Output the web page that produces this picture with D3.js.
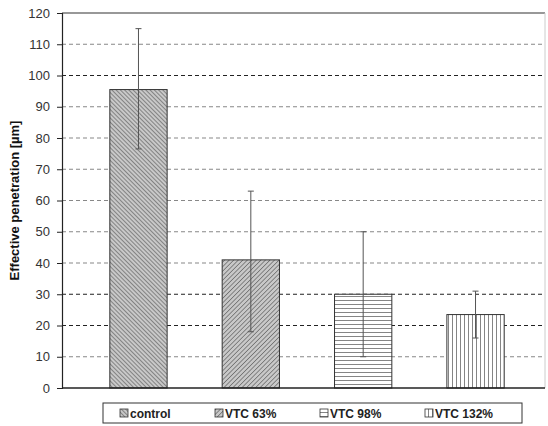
<!DOCTYPE html>
<html>
<head>
<meta charset="utf-8">
<script src="https://cdnjs.cloudflare.com/ajax/libs/d3/7.8.5/d3.min.js"></script>
<style>
body{margin:0;background:#fff;}
text{font-family:"Liberation Sans",Arial,sans-serif;}
</style>
</head>
<body>
<svg width="548" height="426"></svg>
<script>
const groups = ["control", "VTC 63%", "VTC 98%", "VTC 132%"];
const means = [95.5, 41, 30, 23.5];
const errHigh = [115, 63, 50, 31];
const errLow = [76.5, 18, 10, 16];
const yTicks = [0, 10, 20, 30, 40, 50, 60, 70, 80, 90, 100, 110, 120];
const darkLines = [20, 30, 100];

const svg = d3.select("svg");
const plotL = 62, plotR = 545, plotT = 13, plotB = 388;

const defs = svg.append("defs");
function hatch(id, bg, lineColor, angle, gap, w) {
    const p = defs.append("pattern")
        .attr("id", id)
        .attr("patternUnits", "userSpaceOnUse")
        .attr("width", gap).attr("height", gap)
        .attr("patternTransform", `rotate(${angle})`);
    p.append("rect").attr("width", gap).attr("height", gap).attr("fill", bg);
    p.append("line").attr("x1", 0).attr("y1", 0).attr("x2", 0).attr("y2", gap)
        .attr("stroke", lineColor).attr("stroke-width", w);
}
hatch("p0", "#c8c8c8", "#4a4a4a", -45, 3, 1.1);
hatch("p1", "#c8c8c8", "#4a4a4a", 45, 3.2, 1.1);
hatch("p2", "#ffffff", "#333", 90, 4, 1.2);
hatch("p3", "#ffffff", "#333", 0, 4, 1.2);
const fills = ["url(#p0)", "url(#p1)", "url(#p2)", "url(#p3)"];

const x = d3.scaleBand()
    .domain(groups)
    .range([82.3, 531.7])
    .paddingInner(0.49)
    .paddingOuter(0.245);

const y = d3.scaleLinear()
    .domain([0, 120])
    .range([plotB, plotT]);

// plot frame
svg.append("line").attr("x1", plotL).attr("x2", plotR).attr("y1", plotT).attr("y2", plotT)
    .attr("stroke", "#333").attr("stroke-width", 1.2);
svg.append("line").attr("x1", plotR).attr("x2", plotR).attr("y1", plotT).attr("y2", plotB)
    .attr("stroke", "#ccc");

// dashed grid
svg.append("g")
    .selectAll("line")
    .data(yTicks.filter(d => d > 0 && d < 120))
    .enter()
    .append("line")
    .attr("x1", plotL).attr("x2", plotR)
    .attr("y1", d => y(d)).attr("y2", d => y(d))
    .attr("stroke", d => darkLines.includes(d) ? "#222" : "#888")
    .attr("stroke-width", 1.2)
    .attr("stroke-dasharray", "4,3");

// y axis
const yAxis = svg.append("g")
    .attr("transform", `translate(${plotL},0)`)
    .call(d3.axisLeft(y).tickValues(yTicks).tickSize(5).tickPadding(7));
yAxis.select(".domain").attr("stroke", "#222").attr("stroke-width", 1.2);
yAxis.selectAll(".tick line").attr("stroke", "#222");
yAxis.selectAll(".tick text").attr("font-size", 13).attr("fill", "#333")
    .style("font-family", "'Liberation Sans',Arial,sans-serif");

// bars
svg.append("g")
    .selectAll("rect")
    .data(groups)
    .enter()
    .append("rect")
    .attr("x", d => x(d))
    .attr("y", (d, i) => y(means[i]))
    .attr("width", x.bandwidth())
    .attr("height", (d, i) => y(0) - y(means[i]))
    .attr("fill", (d, i) => fills[i])
    .attr("stroke", "#333")
    .attr("stroke-width", 1);

// x axis baseline
svg.append("line").attr("x1", plotL).attr("x2", plotR).attr("y1", plotB).attr("y2", plotB)
    .attr("stroke", "#222").attr("stroke-width", 1.3);

// error bars
const eb = svg.append("g").attr("stroke", "#555").attr("stroke-width", 1);
groups.forEach((g, i) => {
    const cx = x(g) + x.bandwidth() / 2;
    eb.append("line").attr("x1", cx).attr("x2", cx).attr("y1", y(errHigh[i])).attr("y2", y(errLow[i]));
    eb.append("line").attr("x1", cx - 3).attr("x2", cx + 3).attr("y1", y(errHigh[i])).attr("y2", y(errHigh[i]));
    eb.append("line").attr("x1", cx - 3).attr("x2", cx + 3).attr("y1", y(errLow[i])).attr("y2", y(errLow[i]));
});

// y label
svg.append("text")
    .attr("transform", `translate(19,${(plotT + plotB) / 2}) rotate(-90)`)
    .attr("text-anchor", "middle")
    .attr("font-size", 13)
    .attr("font-weight", "bold")
    .attr("fill", "#111")
    .text("Effective penetration [µm]");

// legend
const lg = svg.append("g");
lg.append("rect").attr("x", 103).attr("y", 403).attr("width", 419).attr("height", 20)
    .attr("fill", "#fff").attr("stroke", "#333").attr("stroke-width", 1);
const legX = [120, 215, 320, 425];
groups.forEach((g, i) => {
    lg.append("rect").attr("x", legX[i]).attr("y", 409).attr("width", 8).attr("height", 8)
        .attr("fill", fills[i]).attr("stroke", "#333").attr("stroke-width", 0.8);
    lg.append("text").attr("x", legX[i] + 10).attr("y", 418)
        .attr("font-size", 12).attr("font-weight", "bold").attr("fill", "#222")
        .text(g);
});
</script>
</body>
</html>
